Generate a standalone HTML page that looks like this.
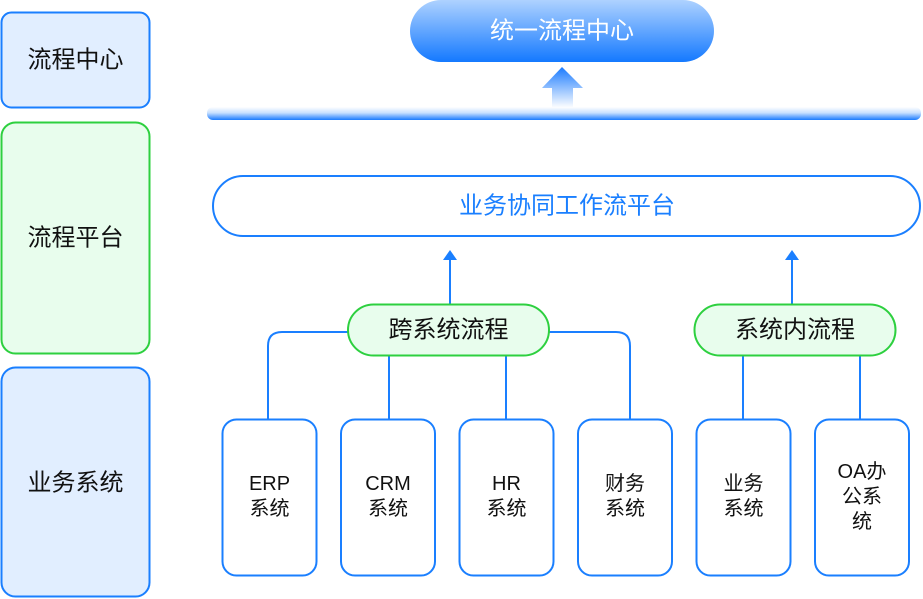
<!DOCTYPE html>
<html><head><meta charset="utf-8"><style>
html,body{margin:0;padding:0;background:#fff;}
svg{display:block;}
text{font-family:"Liberation Sans","Noto Sans CJK SC",sans-serif;}
</style></head><body>
<svg width="923" height="599" viewBox="0 0 923 599" xmlns="http://www.w3.org/2000/svg">
<defs>
<linearGradient id="gTop" x1="0" y1="0" x2="0" y2="1">
<stop offset="0" stop-color="#aed2ff"/>
<stop offset="1" stop-color="#1479ff"/>
</linearGradient>
<linearGradient id="gArrow" x1="0" y1="0" x2="0" y2="1">
<stop offset="0" stop-color="#1a7bff"/>
<stop offset="1" stop-color="#ffffff"/>
</linearGradient>
<linearGradient id="gBar" x1="0" y1="0" x2="0" y2="1">
<stop offset="0" stop-color="#ffffff"/>
<stop offset="0.45" stop-color="#c8e0ff"/>
<stop offset="1" stop-color="#1a7bff"/>
</linearGradient>
</defs>

<!-- left column -->
<rect x="1.5" y="12.5" width="148" height="95" rx="10" fill="#e1eeff" stroke="#1a7fff" stroke-width="2"/>
<text x="75.5" y="60" font-size="24" text-anchor="middle" dominant-baseline="central" fill="#111">流程中心</text>
<rect x="1.5" y="122.5" width="148" height="231" rx="14" fill="#e8fded" stroke="#2dd03f" stroke-width="2"/>
<text x="75.5" y="238" font-size="24" text-anchor="middle" dominant-baseline="central" fill="#111">流程平台</text>
<rect x="1.5" y="367.5" width="148" height="229" rx="14" fill="#e1eeff" stroke="#1a7fff" stroke-width="2"/>
<text x="75.5" y="483" font-size="24" text-anchor="middle" dominant-baseline="central" fill="#111">业务系统</text>

<!-- top pill -->
<rect x="410" y="0" width="304" height="62" rx="31" fill="url(#gTop)"/>
<text x="562" y="31" font-size="24" text-anchor="middle" dominant-baseline="central" fill="#ffffff">统一流程中心</text>

<!-- big arrow -->
<path d="M562 67 L583 88 L573 88 L573 108 L552 108 L552 88 L542 88 Z" fill="url(#gArrow)"/>

<!-- bar -->
<rect x="207" y="107" width="714" height="13" rx="6" fill="url(#gBar)"/>

<!-- platform pill -->
<rect x="213" y="176" width="707" height="60" rx="30" fill="#fff" stroke="#1a7fff" stroke-width="2"/>
<text x="567" y="206" font-size="24" text-anchor="middle" dominant-baseline="central" fill="#1a7fff">业务协同工作流平台</text>

<!-- arrows up -->
<g stroke="#1a7fff" stroke-width="2" fill="none">
<line x1="450" y1="304" x2="450" y2="258"/>
<line x1="792" y1="304" x2="792" y2="258"/>
<path d="M348 332 L282 332 Q268 332 268 346 L268 419"/>
<path d="M549 332 L616 332 Q630 332 630 346 L630 419"/>
<line x1="389" y1="356" x2="389" y2="419"/>
<line x1="506" y1="356" x2="506" y2="419"/>
<line x1="743" y1="356" x2="743" y2="419"/>
<line x1="860" y1="356" x2="860" y2="419"/>
</g>
<path d="M450 250 L457 260 L443 260 Z" fill="#1a7fff"/>
<path d="M792 250 L799 260 L785 260 Z" fill="#1a7fff"/>

<!-- middle pills -->
<rect x="348" y="304.5" width="201" height="51" rx="25.5" fill="#e8fded" stroke="#2dd03f" stroke-width="2"/>
<text x="448.5" y="330" font-size="24" text-anchor="middle" dominant-baseline="central" fill="#111">跨系统流程</text>
<rect x="694.5" y="304.5" width="201" height="51" rx="25.5" fill="#e8fded" stroke="#2dd03f" stroke-width="2"/>
<text x="795" y="330" font-size="24" text-anchor="middle" dominant-baseline="central" fill="#111">系统内流程</text>

<!-- bottom boxes -->
<g fill="#fff" stroke="#1a7fff" stroke-width="2">
<rect x="222.5" y="419.5" width="94" height="156" rx="14"/>
<rect x="341" y="419.5" width="94" height="156" rx="14"/>
<rect x="459.5" y="419.5" width="94" height="156" rx="14"/>
<rect x="578" y="419.5" width="94" height="156" rx="14"/>
<rect x="696.5" y="419.5" width="94" height="156" rx="14"/>
<rect x="815" y="419.5" width="94" height="156" rx="14"/>
</g>
<g font-size="20" text-anchor="middle" fill="#111">
<text x="269.5" y="484" dominant-baseline="central">ERP</text>
<text x="269.5" y="509" dominant-baseline="central">系统</text>
<text x="388" y="484" dominant-baseline="central">CRM</text>
<text x="388" y="509" dominant-baseline="central">系统</text>
<text x="506.5" y="484" dominant-baseline="central">HR</text>
<text x="506.5" y="509" dominant-baseline="central">系统</text>
<text x="625" y="484" dominant-baseline="central">财务</text>
<text x="625" y="509" dominant-baseline="central">系统</text>
<text x="743.5" y="484" dominant-baseline="central">业务</text>
<text x="743.5" y="509" dominant-baseline="central">系统</text>
<text x="862" y="472" dominant-baseline="central">OA办</text>
<text x="862" y="497" dominant-baseline="central">公系</text>
<text x="862" y="522" dominant-baseline="central">统</text>
</g>
</svg>
</body></html>
